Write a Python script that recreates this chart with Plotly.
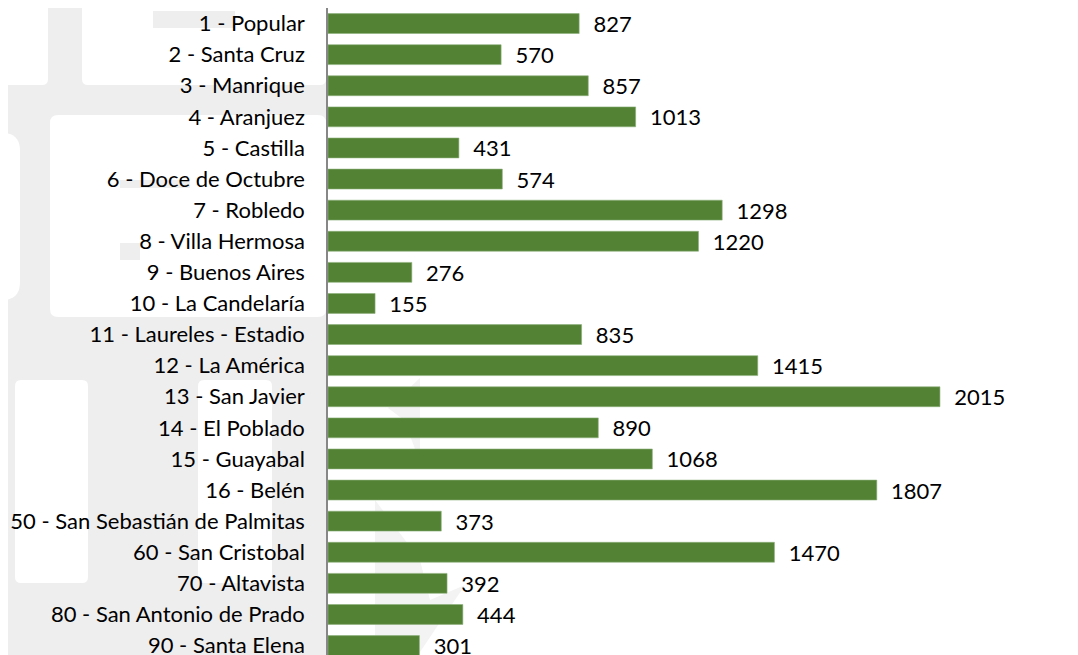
import plotly.graph_objects as go

# comunas / corregimientos and counts
comunas = [
    "1 - Popular", "2 - Santa Cruz", "3 - Manrique", "4 - Aranjuez", "5 - Castilla",
    "6 - Doce de Octubre", "7 - Robledo", "8 - Villa Hermosa", "9 - Buenos Aires",
    "10 - La Candelaría", "11 - Laureles - Estadio", "12 - La América", "13 - San Javier",
    "14 - El Poblado", "15 - Guayabal", "16 - Belén", "50 - San Sebastián de Palmitas",
    "60 - San Cristobal", "70 - Altavista", "80 - San Antonio de Prado", "90 - Santa Elena",
]
valores = [827, 570, 857, 1013, 431, 574, 1298, 1220, 276, 155, 835, 1415, 2015,
           890, 1068, 1807, 373, 1470, 392, 444, 301]

W, H = 1078, 655
OFF = 8  # page body margin
ML, MT = 320, 0
GRAY = "#EFEEEE"
PW = W - ML
PH = H - MT


def px(x):
    # screen pixel -> paper x
    return (x - OFF - ML) / PW


def py(y):
    return (H + OFF - y) / PH


def rrect(x0, y0, x1, y1, r, color):
    # rounded rectangle in screen pixel coords -> paper path
    p = (f"M {px(x0 + r)},{py(y0)} L {px(x1 - r)},{py(y0)} Q {px(x1)},{py(y0)} {px(x1)},{py(y0 + r)} "
         f"L {px(x1)},{py(y1 - r)} Q {px(x1)},{py(y1)} {px(x1 - r)},{py(y1)} "
         f"L {px(x0 + r)},{py(y1)} Q {px(x0)},{py(y1)} {px(x0)},{py(y1 - r)} "
         f"L {px(x0)},{py(y0 + r)} Q {px(x0)},{py(y0)} {px(x0 + r)},{py(y0)} Z")
    return dict(type="path", path=p, xref="paper", yref="paper", fillcolor=color,
                line=dict(width=0), layer="below")


def poly(pts, color):
    p = "M " + " L ".join(f"{px(a)},{py(b)}" for a, b in pts) + " Z"
    return dict(type="path", path=p, xref="paper", yref="paper", fillcolor=color,
                line=dict(width=0), layer="below")


def box(x0, y0, x1, y1, color):
    return dict(type="rect", xref="paper", yref="paper", x0=px(x0), x1=px(x1), y0=py(y1), y1=py(y0),
                fillcolor=color, line=dict(width=0), layer="below")


# faint logo watermark behind the labels
shapes = [
    box(-20, -20, 326, 700, GRAY),
    rrect(-10, -10, 48, 85, 6, "white"),
    rrect(82, -10, 326, 85, 6, "white"),
    rrect(50, 115, 326, 317, 8, "white"),
    rrect(-20, 133, 20, 300, 18, "white"),
    rrect(15, 380, 88, 583, 6, "white"),
    rrect(198, 380, 272, 583, 6, "white"),
    box(153, 11, 235, 28, GRAY),
    box(120, 180, 190, 188, GRAY),
    box(120, 243, 140, 260, GRAY),
    poly([(420, 378), (388, 408), (404, 420), (420, 462)], "#F3F3F3"),
    poly([(375, 500), (375, 645), (418, 655), (465, 585), (430, 600), (420, 560)], "#F3F3F3"),
]

fig = go.Figure(go.Bar(
    x=valores, y=comunas, orientation="h",
    marker=dict(color="#548235", line=dict(color="#8CB07A", width=0.6)),
    text=["\u00a0\u00a0" + str(v) for v in valores],
    textposition="outside", cliponaxis=False, constraintext="none",
    textfont=dict(family="Lato", size=22, color="#000000"),
))

fig.update_layout(
    width=W, height=H,
    margin=dict(l=ML, r=0, t=MT, b=0, pad=0),
    paper_bgcolor="white", plot_bgcolor="rgba(0,0,0,0)",
    bargap=0.36, showlegend=False,
    font=dict(family="Lato", size=22, color="#000000"),
    shapes=shapes,
    xaxis=dict(range=[0, PW / 0.3037], side="top", showline=True, linecolor="#878787",
               linewidth=2, showgrid=False, zeroline=False, showticklabels=False, ticks=""),
    yaxis=dict(categoryorder="array", categoryarray=comunas, range=[-0.5 + PH / 31.1, -0.5],
               showline=True, linecolor="#878787", linewidth=1.5, showgrid=False,
               ticks="", ticklabelstandoff=17),
)

fig.write_html("out.html")
